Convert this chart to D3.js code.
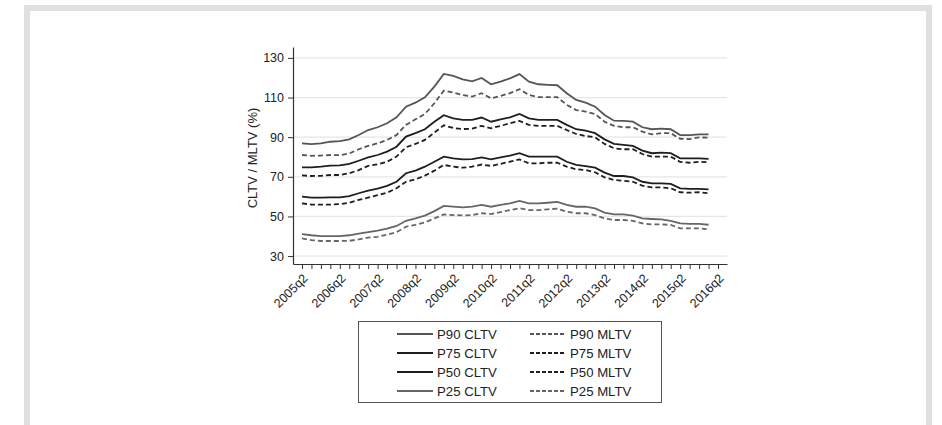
<!DOCTYPE html>
<html>
<head>
<meta charset="utf-8">
<script src="https://cdn.jsdelivr.net/npm/d3@7"></script>
<style>
  body { margin: 0; background: #fff; }
  svg { display: block; font-family: "Liberation Sans", Arial, sans-serif; }
  .domain, .tick line { stroke: #333; }
</style>
</head>
<body>
<svg width="942" height="425"></svg>
<script>
// quarters on the x axis (2016q2 is only an axis tick, no data there)
var quarters = [
  "2005q2","2005q3","2005q4","2006q1","2006q2","2006q3","2006q4","2007q1","2007q2","2007q3","2007q4",
  "2008q1","2008q2","2008q3","2008q4","2009q1","2009q2","2009q3","2009q4","2010q1","2010q2","2010q3","2010q4",
  "2011q1","2011q2","2011q3","2011q4","2012q1","2012q2","2012q3","2012q4","2013q1","2013q2","2013q3","2013q4",
  "2014q1","2014q2","2014q3","2014q4","2015q1","2015q2","2015q3","2015q4","2016q1","2016q2"];
var xTickLabels = ["2005q2","2006q2","2007q2","2008q2","2009q2","2010q2","2011q2","2012q2","2013q2","2014q2","2015q2","2016q2"];
var yTicks = [30, 50, 70, 90, 110, 130];

var p90CLTV = [86.9,86.5,86.9,87.7,88.0,88.9,91.1,93.6,95.0,97.0,100.0,105.4,107.4,110.1,115.5,121.9,120.9,119.2,118.2,119.9,116.7,118.0,119.7,121.8,118.0,116.7,116.4,116.2,112.2,108.8,107.4,105.4,101.2,98.3,98.2,97.8,95.0,94.0,94.3,94.0,91.1,91.0,91.4,91.4];
var p90MLTV = [81.0,80.6,80.7,81.0,80.9,81.8,83.9,85.6,86.9,88.6,91.1,96.2,99.0,101.7,107.1,113.5,112.5,111.2,110.5,112.2,109.6,110.8,112.2,114.2,111.3,110.2,110.2,110.2,106.3,103.7,102.9,101.7,97.8,95.7,95.0,95.0,92.8,91.4,92.0,92.0,89.2,89.0,89.9,89.7];
var p75CLTV = [74.8,74.8,75.1,75.6,75.8,76.5,78.1,79.8,81.0,82.7,85.2,90.3,92.0,94.0,97.8,101.1,99.5,98.7,98.7,99.9,97.8,99.0,100.0,101.7,99.5,98.7,98.7,98.7,96.2,94.0,93.3,92.0,88.9,86.6,86.1,85.6,83.2,81.9,82.2,81.9,79.3,79.3,79.3,79.0];
var p75MLTV = [70.7,70.4,70.5,70.9,70.9,71.8,73.4,75.5,76.3,77.6,80.2,84.9,86.6,88.6,92.3,96.0,94.6,94.1,94.3,95.7,94.5,95.7,97.0,98.2,96.2,95.7,95.7,95.7,93.6,91.6,90.6,89.9,86.6,84.4,83.9,83.9,81.5,80.2,80.2,80.2,77.5,77.1,77.6,77.3];
var p50CLTV = [60.0,59.5,59.5,59.6,59.6,60.3,61.7,63.0,64.0,65.4,67.5,71.8,73.1,75.1,77.6,80.2,79.3,78.8,78.9,79.8,78.8,79.8,80.7,81.9,80.2,80.2,80.2,80.2,77.6,76.0,75.4,74.6,72.1,70.4,70.4,69.7,67.5,66.7,66.7,66.4,64.2,63.9,63.9,63.7];
var p50MLTV = [56.6,56.0,56.0,56.0,56.2,56.9,58.3,59.5,60.7,62.0,64.2,67.5,68.7,70.6,73.1,76.0,75.1,74.6,75.1,76.2,75.5,76.5,77.6,78.8,76.8,76.8,77.1,77.1,75.1,73.8,73.4,72.3,69.7,68.4,68.0,67.5,65.5,64.7,64.7,64.2,62.2,62.0,62.2,61.7];
var p25CLTV = [41.1,40.5,40.1,40.1,40.1,40.5,41.3,42.1,42.8,43.8,45.2,47.8,49.0,50.4,52.7,55.3,54.9,54.6,54.9,55.8,54.9,55.8,56.6,57.8,56.6,56.6,56.9,57.3,55.8,54.9,54.9,54.1,51.9,51.0,51.0,50.4,49.0,48.7,48.5,47.8,46.5,46.2,46.2,45.8];
var p25MLTV = [38.9,38.1,37.6,37.6,37.6,37.7,38.4,39.3,39.7,40.8,42.1,44.8,45.8,47.0,49.0,51.0,50.7,50.5,50.7,51.6,51.2,52.2,53.2,54.2,53.2,53.2,53.6,53.9,52.4,51.6,51.6,50.7,49.0,48.2,48.2,47.8,46.5,46.0,46.0,45.7,44.0,44.0,44.0,43.5];

var series = [
  {name: "P90 CLTV", values: p90CLTV, color: "#555", dash: null},
  {name: "P75 CLTV", values: p75CLTV, color: "#1e1e1e", dash: null},
  {name: "P50 CLTV", values: p50CLTV, color: "#1e1e1e", dash: null},
  {name: "P25 CLTV", values: p25CLTV, color: "#666", dash: null},
  {name: "P90 MLTV", values: p90MLTV, color: "#555", dash: "5,3"},
  {name: "P75 MLTV", values: p75MLTV, color: "#1e1e1e", dash: "5,3"},
  {name: "P50 MLTV", values: p50MLTV, color: "#1e1e1e", dash: "5,3"},
  {name: "P25 MLTV", values: p25MLTV, color: "#666", dash: "5,3"}
];

var svg = d3.select("svg");

// outer light frame
svg.append("rect")
  .attr("x", 27).attr("y", 8)
  .attr("width", 902).attr("height", 480)
  .attr("fill", "none")
  .attr("stroke", "#dfdfdf")
  .attr("stroke-width", 6);

var x = d3.scalePoint().domain(quarters).range([293, 727]).padding(0.95);
var y = d3.scaleLinear().domain([26, 135.5]).range([264, 47]);

// gridlines
svg.append("g").selectAll("line")
  .data(yTicks)
  .enter().append("line")
    .attr("x1", 293).attr("x2", 727)
    .attr("y1", function(d) { return y(d); })
    .attr("y2", function(d) { return y(d); })
    .attr("stroke", "#e6e6e6")
    .attr("stroke-width", 1.2);

var yAxis = svg.append("g")
  .attr("transform", "translate(293,0)")
  .call(d3.axisLeft(y).tickValues(yTicks).tickSize(5).tickPadding(4).tickSizeOuter(0));
yAxis.selectAll("text").attr("font-size", 12.5).attr("fill", "#222").attr("font-family", "Liberation Sans, Arial, sans-serif");

var xAxis = svg.append("g")
  .attr("transform", "translate(0,264)")
  .call(d3.axisBottom(x).tickValues(quarters).tickSize(5).tickSizeOuter(0)
    .tickFormat(function(d) { return xTickLabels.indexOf(d) >= 0 ? d : ""; }));
xAxis.selectAll("text")
  .attr("font-size", 12.5)
  .attr("fill", "#222")
  .attr("font-family", "Liberation Sans, Arial, sans-serif")
  .attr("text-anchor", "end")
  .attr("dy", null)
  .attr("y", 0)
  .attr("transform", "translate(6,15) rotate(-45)");
svg.selectAll(".domain").attr("stroke-width", 1.2);

// axis title
svg.append("text")
  .attr("transform", "translate(257,158) rotate(-90)")
  .attr("text-anchor", "middle")
  .attr("font-size", 13)
  .attr("fill", "#222")
  .text("CLTV / MLTV (%)");

// lines
var line = d3.line()
  .x(function(d, i) { return x(quarters[i]); })
  .y(function(d) { return y(d); });

svg.append("g").selectAll("path")
  .data(series)
  .enter().append("path")
    .attr("d", function(d) { return line(d.values); })
    .attr("fill", "none")
    .attr("stroke", function(d) { return d.color; })
    .attr("stroke-width", 1.8)
    .attr("stroke-dasharray", function(d) { return d.dash; });

// legend
var legend = svg.append("g");
legend.append("rect")
  .attr("x", 358.5).attr("y", 321.5)
  .attr("width", 303).attr("height", 81)
  .attr("fill", "#fff")
  .attr("stroke", "#555")
  .attr("stroke-width", 1);

var item = legend.selectAll("g.item")
  .data(series)
  .enter().append("g")
    .attr("class", "item")
    .attr("transform", function(d, i) {
      var col = i < 4 ? 0 : 1, row = i % 4;
      return "translate(" + (397 + col * 133) + "," + (334 + row * 19) + ")";
    });
item.append("line")
  .attr("x1", 0).attr("x2", 36)
  .attr("stroke", function(d) { return d.color; })
  .attr("stroke-width", 1.8)
  .attr("stroke-dasharray", function(d) { return d.dash ? "4,2" : null; });
item.append("text")
  .attr("x", 40).attr("dy", "0.35em")
  .attr("font-size", 13.2)
  .attr("fill", "#222")
  .text(function(d) { return d.name; });
</script>
</body>
</html>
